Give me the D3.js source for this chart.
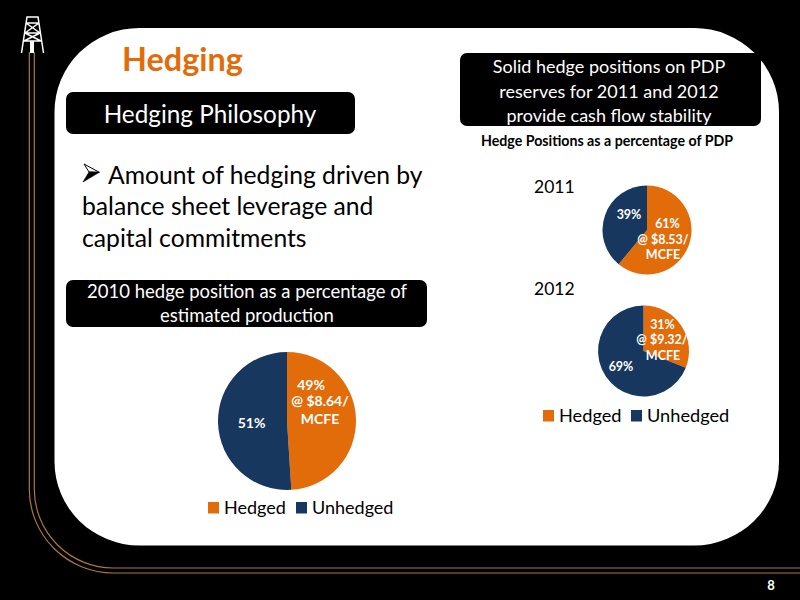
<!DOCTYPE html>
<html><head><meta charset="utf-8">
<script src="https://cdn.jsdelivr.net/npm/d3@7"></script>
<style>html,body{margin:0;padding:0;background:#000}svg{display:block}text{font-family:Lato,"Open Sans",sans-serif}</style>
</head><body><svg id="c" width="800" height="600"></svg>
<script>
const categories=["Hedged","Unhedged"];
const values2010=[49,51];
const values2011=[61,39];
const values2012=[31,69];
const hedgedLabel2010=["49%","@ $8.64/","MCFE"];
const hedgedLabel2011=["61%","@ $8.53/","MCFE"];
const hedgedLabel2012=["31%","@ $9.32/","MCFE"];
const legendLabels=categories;
const colors=d3.scaleOrdinal(categories,["#E36C0A","#17375E"]);
const svg=d3.select("#c");
svg.append("rect").attr("width",800).attr("height",600).attr("fill","#000");
const line=(d,w)=>svg.append("path").attr("d",d).attr("fill","none").attr("stroke","#A8783C").attr("stroke-width",w||1.2);
line("M29.3,52 V489 A84,84 0 0 0 113,573 H800");
line("M34.3,52 V489 A79,79 0 0 0 113,568 H800");
// derrick
const g=svg.append("g").attr("fill","none").attr("stroke","#fff").attr("stroke-width",1.5);
g.append("path").attr("d","M21.5,53 L27,17 H38 L43.5,53 M26,23 H39 M25,33 H40 M24,41 H41 M26,23 L40,33 M39,23 L25,33 M25,33 L41,41 M40,33 L24,41");
svg.append("rect").attr("x",30).attr("y",41).attr("width",4).attr("height",12).attr("fill","#fff");
svg.append("rect").attr("x",54.5).attr("y",28).attr("width",724.5).attr("height",517.5).attr("rx",85).attr("ry",84).attr("fill","#fff");
const text=(x,y,s,size,fill,anchor,weight)=>svg.append("text").attr("x",x).attr("y",y).text(s).attr("font-size",size).attr("fill",fill).attr("text-anchor",anchor||"start").attr("font-weight",weight||400);
text(122,71,"Hedging",32.4,"#E36C0A","start",700);
const box=(x,y,w,h)=>svg.append("rect").attr("x",x).attr("y",y).attr("width",w).attr("height",h).attr("rx",7).attr("fill","#000");
box(66,92,289,42);
text(210,123,"Hedging Philosophy",24.3,"#fff","middle");
box(460,53,301,73);
["Solid hedge positions on PDP","reserves for 2011 and 2012","provide cash flow stability"].forEach((s,i)=>text(609,73+i*24.5,s,18,"#fff","middle"));
text(607,146,"Hedge Positions as a percentage of PDP",14.2,"#000","middle",700);
// bullet arrowhead
svg.append("path").attr("d","M84,164 L99.3,172.3 L89,172 Z").attr("fill","#fff").attr("stroke","#000").attr("stroke-width",1);
svg.append("path").attr("d","M83,182 L89,172 L99.3,172.3 Z").attr("fill","#000").attr("stroke","#000").attr("stroke-width",.6);
text(108,184,"Amount of hedging driven by",24.7,"#000");
text(82,215,"balance sheet leverage and",24.7,"#000");
text(82,247,"capital commitments",24.7,"#000");
box(66,280,361,47);
text(247,298,"2010 hedge position as a percentage of",18.5,"#fff","middle");
text(247,322,"estimated production",18.5,"#fff","middle");
text(534,193,"2011",17.5,"#000");
text(534,295,"2012",17.5,"#000");
function pie(cx,cy,r,vals){
  const arcs=d3.pie().sort(null)(vals);
  const a=d3.arc().innerRadius(0).outerRadius(r);
  svg.append("g").attr("transform",`translate(${cx},${cy})`).selectAll("path").data(arcs).join("path")
    .attr("d",a).attr("fill",(d,i)=>colors(categories[i]));
}
pie(287,421,69,values2010);
pie(647,230,44.5,values2011);
pie(643.5,351,45.5,values2012);
const lab=(x,y,s,size)=>text(x,y,s,size,"#fff","middle",700);
const y10=[390,406,424],x10=[311,320,320];
hedgedLabel2010.forEach((s,i)=>lab(x10[i],y10[i],s,14));
lab(251.5,428,values2010[1]+"%",14);
const y11=[228,244,259],x11=[667.5,663,663];
hedgedLabel2011.forEach((s,i)=>lab(x11[i],y11[i],s,12.5));
lab(629,218.5,values2011[1]+"%",12.5);
const y12=[329,344,359.5],x12=[662.5,662,663];
hedgedLabel2012.forEach((s,i)=>lab(x12[i],y12[i],s,12.5));
lab(621,371,values2012[1]+"%",12.5);
function legend(x,y,size,sw,gap2){
  legendLabels.forEach((s,i)=>{
    const lx=x+(i?gap2:0);
    svg.append("rect").attr("x",lx).attr("y",y-sw).attr("width",sw-.5).attr("height",sw).attr("fill",colors(s));
    text(lx+sw+4.5,y,s,size,"#000");
  });
}
legend(208,513.5,18,11.5,88);
legend(543,421.5,18.2,11.5,88);
text(771,590,"8",13,"#fff","middle",700);
</script></body></html>
